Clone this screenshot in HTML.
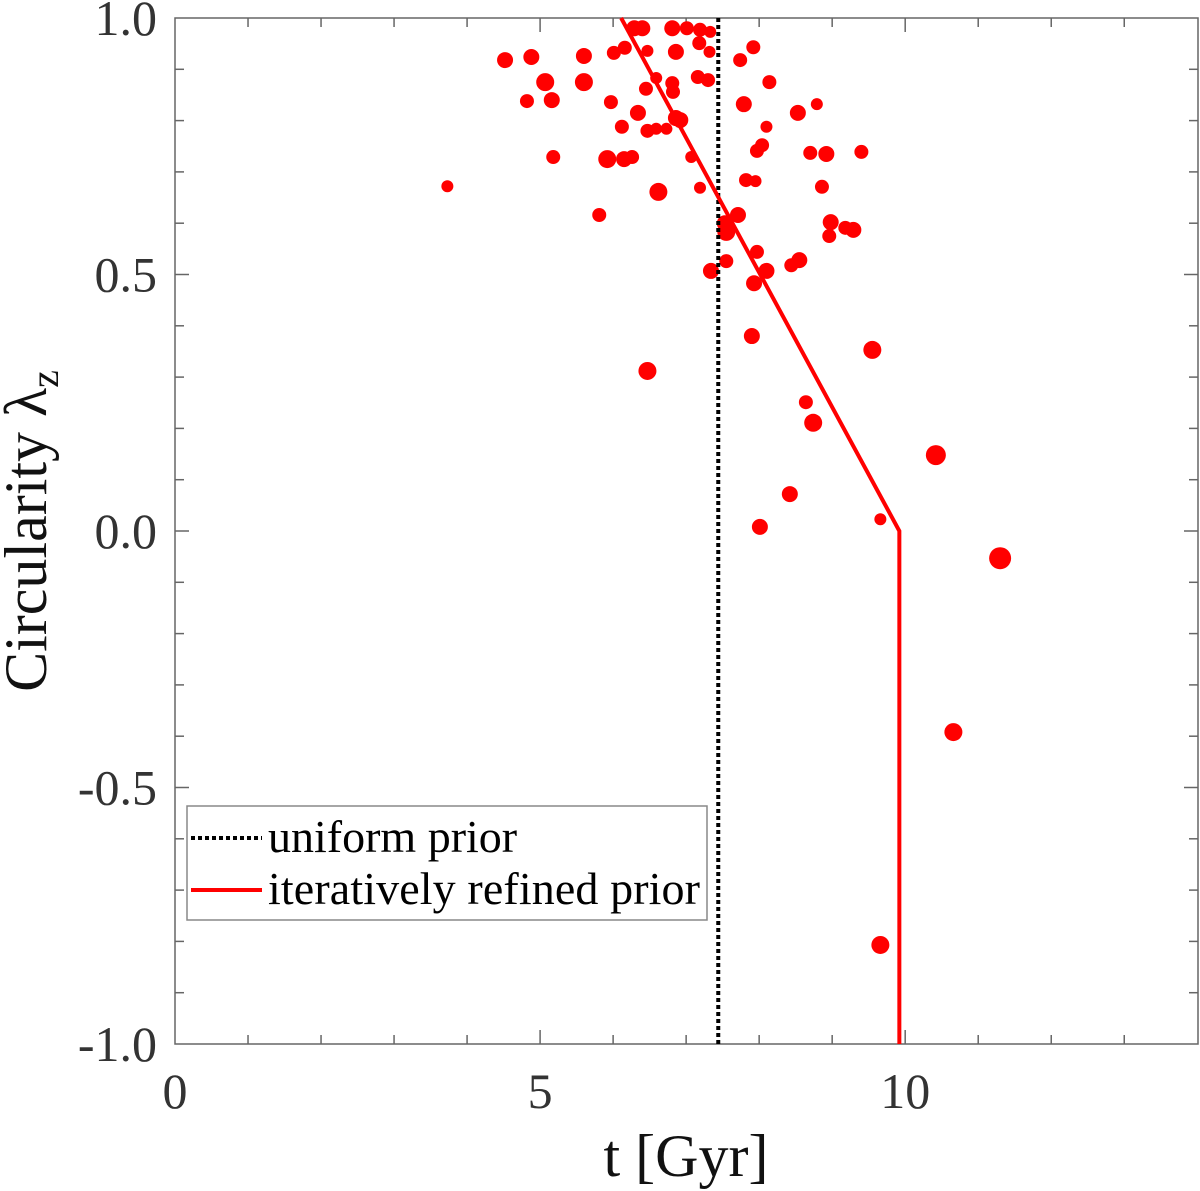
<!DOCTYPE html>
<html><head><meta charset="utf-8"><style>
html,body{margin:0;padding:0;background:#fff;}
svg{display:block;font-family:"Liberation Serif",serif;}
</style></head><body>
<svg id="chart" width="1200" height="1191" viewBox="0 0 1200 1191" xmlns="http://www.w3.org/2000/svg">
<g id="axes"></g>
<g id="marks"></g>
<g id="lines"></g>
<text x="686" y="1176" font-size="60" text-anchor="middle" fill="#111">t [Gyr]</text>
<text transform="translate(46,531) rotate(-90)" font-size="60" text-anchor="middle" fill="#111">Circularity λ<tspan font-size="40" dy="12">z</tspan></text>
<g>
<rect x="187" y="806" width="520" height="114" fill="#fff" stroke="#888" stroke-width="1.5"/>
<line x1="191" y1="838" x2="262" y2="838" stroke="#000" stroke-width="4" stroke-dasharray="4,3"/>
<text x="268" y="852" font-size="46" fill="#000">uniform prior</text>
<line x1="191" y1="890" x2="262" y2="890" stroke="#f00" stroke-width="4"/>
<text x="268" y="904" font-size="46" textLength="432" fill="#000">iteratively refined prior</text>
</g>
</svg>
<script>
const tVals=[3.73,4.52,4.88,4.82,5.07,5.16,5.18,5.60,5.60,5.97,5.81,5.92,6.15,6.26,6.01,6.16,6.12,6.34,6.29,6.40,6.47,6.45,6.47,6.59,6.73,6.59,6.62,6.47,6.81,6.86,6.81,6.82,6.86,6.92,7.01,7.19,7.18,7.33,7.07,7.16,7.30,7.32,7.19,7.34,7.55,7.71,7.53,7.55,7.74,7.92,7.79,7.82,7.95,7.97,8.04,8.10,8.14,7.97,7.93,8.10,7.90,8.01,8.53,8.79,8.70,8.92,8.86,8.44,8.55,8.98,8.96,9.18,9.29,9.40,8.64,8.74,8.42,9.55,9.66,10.42,11.30,10.66,9.66];
const lamVals=[0.672,0.918,0.924,0.838,0.875,0.840,0.729,0.926,0.875,0.836,0.616,0.725,0.725,0.729,0.932,0.942,0.788,0.815,0.98,0.98,0.936,0.862,0.780,0.784,0.784,0.883,0.661,0.312,0.98,0.934,0.873,0.856,0.805,0.801,0.98,0.977,0.951,0.973,0.729,0.885,0.879,0.934,0.669,0.507,0.583,0.616,0.600,0.526,0.918,0.943,0.832,0.684,0.682,0.741,0.752,0.788,0.875,0.544,0.483,0.507,0.380,0.008,0.815,0.832,0.737,0.735,0.671,0.518,0.528,0.602,0.575,0.591,0.587,0.739,0.251,0.211,0.072,0.353,0.023,0.148,-0.053,-0.392,-0.807];
const sizeVals=[6,8,8,7,9,8,7,8,9,7,7,9,8,7,7,7,7,8,8,8,6,7,7,6,6,6,9,9,8,8,7,7,8,8,7,7,7,6,6,7,7,6,6,8,9,8,8,7,7,7,8,7,6,7,7,6,7,7,8,8,8,8,8,6,7,8,7,7,8,8,7,7,8,7,7,9,8,9,6,10,11,9,9];
const uniformT=[7.44,7.44];
const uniformLam=[1.0,-1.0];
const refinedT=[6.11,9.92,9.92];
const refinedLam=[1.0,0.0,-1.0];
const xTicks=[0,5,10];
const xTickLabels=["0","5","10"];
const yTicks=[-1.0,-0.5,0.0,0.5,1.0];
const yTickLabels=["-1.0","-0.5","0.0","0.5","1.0"];
const X0=175,X1=1198,Y0=1044,Y1=18,TMAX=14.01;
const xs=t=>X0+t/TMAX*(X1-X0);
const ys=v=>Y0-(v+1)/2*(Y0-Y1);
const NS="http://www.w3.org/2000/svg";
function mk(tag,attrs,parent){const e=document.createElementNS(NS,tag);for(const k in attrs)e.setAttribute(k,attrs[k]);parent.appendChild(e);return e;}
const axes=document.getElementById('axes');
const frame=mk('rect',{x:X0,y:Y1,width:X1-X0,height:Y0-Y1,fill:'none',stroke:'#666','stroke-width':1.5},axes);


for(let t=1;t<14;t++){const major=t%5===0;const L=major?14:9;
 const a=mk('line',{x1:xs(t),x2:xs(t),y1:Y0,y2:Y0-L,stroke:'#666','stroke-width':1.5},axes);
 
 
 const b=mk('line',{x1:xs(t),x2:xs(t),y1:Y1,y2:Y1+L,stroke:'#666','stroke-width':1.5},axes);
 
 }
for(let i=1;i<20;i++){const v=-1+i*0.1;const major=i%5===0;const L=major?14:9;
 const a=mk('line',{x1:X0,x2:X0+L,y1:ys(v),y2:ys(v),stroke:'#666','stroke-width':1.5},axes);
 
 
 const b=mk('line',{x1:X1,x2:X1-L,y1:ys(v),y2:ys(v),stroke:'#666','stroke-width':1.5},axes);
 
 }
xTicks.forEach((t,i)=>{const e=mk('text',{x:xs(t),y:1108,'font-size':50,'text-anchor':'middle',fill:'#333'},axes);e.textContent=xTickLabels[i];
 
 });
yTicks.forEach((v,i)=>{const e=mk('text',{x:157,y:ys(v)+17,'font-size':50,'text-anchor':'end',fill:'#333'},axes);e.textContent=yTickLabels[i];
 
 });
const marks=document.getElementById('marks');
tVals.forEach((t,i)=>{const c=mk('circle',{cx:xs(t),cy:ys(lamVals[i]),r:sizeVals[i],fill:'#f00'},marks);
 
 });
const lines=document.getElementById('lines');
const u=mk('polyline',{points:uniformT.map((t,i)=>xs(t)+','+ys(uniformLam[i])).join(' '),fill:'none',stroke:'#000','stroke-width':4,'stroke-dasharray':'4,3'},lines);


const r=mk('polyline',{points:refinedT.map((t,i)=>xs(t)+','+ys(refinedLam[i])).join(' '),fill:'none',stroke:'#f00','stroke-width':4},lines);


</script>
</body></html>
